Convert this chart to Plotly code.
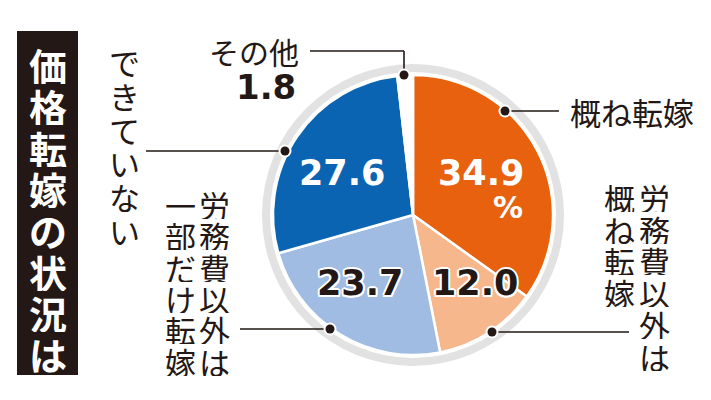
import plotly.graph_objects as go

# ---- data ----
categories = ["概ね転嫁", "労務費以外概ね転嫁", "労務費以外一部だけ転嫁", "できていない", "その他"]
values = [34.9, 12.0, 23.7, 27.6, 1.8]
value_labels = ["34.9", "12.0", "23.7", "27.6", "1.8"]
colors = ["#e8610f", "#f6b78c", "#a0bce2", "#0b64b2", "#ffffff"]
title_text = "価格転嫁の状況は"

W, H = 711, 400
CX, CY, R = 405, 207, 140
DARK = "#231815"


def px(x):
    return x / W


def py(y):
    return 1 - y / H


fig = go.Figure()

fig.add_trace(go.Pie(
    labels=categories,
    values=values,
    sort=False,
    direction="clockwise",
    rotation=0,
    marker=dict(colors=colors, line=dict(color="white", width=2.5)),
    textinfo="none",
    hoverinfo="label+value",
    showlegend=False,
    domain=dict(x=[px(CX - R), px(CX + R)], y=[py(CY + R), py(CY - R)]),
))

shapes = []
annotations = []

# grey ring behind pie
shapes.append(dict(type="circle", xref="paper", yref="paper", layer="below",
                   x0=px(CX - 151), x1=px(CX + 151), y0=py(CY + 151), y1=py(CY - 151),
                   fillcolor="#e2e2e2", line=dict(width=0)))
shapes.append(dict(type="circle", xref="paper", yref="paper", layer="below",
                   x0=px(CX - 143), x1=px(CX + 143), y0=py(CY + 143), y1=py(CY - 143),
                   fillcolor="#ffffff", line=dict(width=0)))

# title box
shapes.append(dict(type="rect", xref="paper", yref="paper", layer="below",
                   x0=px(9), x1=px(70), y0=py(367), y1=py(23),
                   fillcolor=DARK, line=dict(width=0)))


def vtext(s, cx, cy0, step, size, color=DARK, family="Noto Sans CJK JP", bold=False):
    for i, ch in enumerate(s):
        t = f"<b>{ch}</b>" if bold else ch
        annotations.append(dict(text=t, x=px(cx), y=py(cy0 + i * step), xref="paper", yref="paper",
                                xanchor="center", yanchor="middle", showarrow=False,
                                width=int(size), height=int(step) - 1, borderpad=0,
                                font=dict(size=size, color=color, family=family)))


def htext(s, x, y, size, color=DARK, xanchor="left", family="Noto Sans CJK JP", shadow=None):
    f = dict(size=size, color=color, family=family)
    if shadow:
        f["shadow"] = shadow
    annotations.append(dict(text=s, x=px(x), y=py(y), xref="paper", yref="paper",
                            xanchor=xanchor, yanchor="middle", showarrow=False, font=f))


def line(pts):
    for (x0, y0), (x1, y1) in zip(pts[:-1], pts[1:]):
        shapes.append(dict(type="line", xref="paper", yref="paper",
                           x0=px(x0), y0=py(y0), x1=px(x1), y1=py(y1),
                           line=dict(color=DARK, width=1.6)))


def dot(x, y):
    r = 6.5
    shapes.append(dict(type="circle", xref="paper", yref="paper",
                       x0=px(x - r), x1=px(x + r), y0=py(y + r), y1=py(y - r),
                       fillcolor="white", line=dict(width=0)))
    r = 4.5
    shapes.append(dict(type="circle", xref="paper", yref="paper",
                       x0=px(x - r), x1=px(x + r), y0=py(y + r), y1=py(y - r),
                       fillcolor=DARK, line=dict(width=0)))


# title
vtext(title_text, 40, 56, 41.3, 38, color="white", bold=True)

# callouts
# その他
htext("その他", 199, 43, 30)
htext("<b>" + value_labels[4] + "</b>", 290, 79, 34, xanchor="right", family="DejaVu Sans")
line([(302, 43), (396, 43), (396, 67)])
dot(396, 67)

# 概ね転嫁
line([(497, 103), (551, 103)])
dot(497, 103)
htext(categories[0], 560, 103, 31)

# 労務費以外概ね転嫁 (vertical, right column first)
vtext("労務費以外は", 646, 189, 31.7, 31)
vtext("概ね転嫁", 611, 189, 31.7, 31)
line([(484, 324), (621, 324)])
dot(484, 324)

# 労務費以外一部だけ転嫁
vtext("労務費以外は", 206, 196, 31.3, 31)
vtext("一部だけ転嫁", 172, 196, 31.3, 31)
line([(232, 321), (322, 321)])
dot(322, 321)

# できていない
vtext(categories[3], 117, 53, 33.8, 31)
line([(138, 143), (277, 143)])
dot(277, 143)

# values inside slices
num_font = "DejaVu Sans"
outline = "1.5px 1.5px 0 #fff, -1.5px -1.5px 0 #fff, 1.5px -1.5px 0 #fff, -1.5px 1.5px 0 #fff, 0 2px 0 #fff, 0 -2px 0 #fff, 2px 0 0 #fff, -2px 0 0 #fff"
htext("<b>" + value_labels[0] + "</b>", 473, 165, 35, color="white", xanchor="center", family=num_font)
htext("<b>%</b>", 517, 199, 30, color="white", xanchor="right", family=num_font)
htext("<b>" + value_labels[3] + "</b>", 334, 165, 35, color="white", xanchor="center", family=num_font)
htext("<b>" + value_labels[2] + "</b>", 352, 275, 35, color=DARK, xanchor="center", family=num_font, shadow=outline)
htext("<b>" + value_labels[1] + "</b>", 467, 275, 35, color=DARK, xanchor="center", family=num_font, shadow=outline)

fig.update_layout(
    width=W, height=H,
    margin=dict(l=0, r=0, t=0, b=0),
    paper_bgcolor="white", plot_bgcolor="white",
    shapes=shapes, annotations=annotations,
)

fig.write_html("out.html")
